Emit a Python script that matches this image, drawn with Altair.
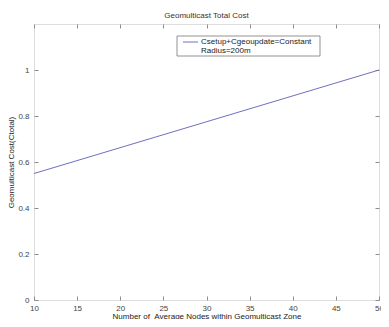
import altair as alt
import pandas as pd

# data
nodes = [10, 50]
cost = [0.55, 1.0]
x_ticks = [10, 15, 20, 25, 30, 35, 40, 45, 50]
y_ticks = [0, 0.2, 0.4, 0.6, 0.8, 1.0]
legend_lines = ["Csetup+Cgeoupdate=Constant", "Radius=200m"]
x_title = "Number of \u00a0Average Nodes within Geomulticast Zone"
y_title = "Geomulticast Cost(Ctotal)"
chart_title = "Geomulticast Total Cost"

df = pd.DataFrame({"n": nodes, "c": cost})

FONT = "Liberation Sans"
AX = "#444444"
FRAME = "#8c8c8c"
LINE = "#6f6fc0"

xs = alt.Scale(domain=[10, 50], nice=False, zero=False)
ys = alt.Scale(domain=[0, 1.2], nice=False, zero=False)

common_axis = dict(grid=False, domain=False, tickSize=4, offset=-4, tickColor=FRAME,
                   labelFont=FONT, labelFontSize=8, labelColor=AX,
                   titleFont=FONT, titleFontSize=8, titleColor="#222222", titleFontWeight="normal")

line = alt.Chart(df).mark_line(color=LINE, strokeWidth=1, clip=True).encode(
    x=alt.X("n:Q", scale=xs,
            axis=alt.Axis(values=x_ticks, labelPadding=4, title=x_title,
                          titlePadding=0, labelFlush=False, **common_axis)),
    y=alt.Y("c:Q", scale=ys,
            axis=alt.Axis(values=y_ticks, format="~g", labelPadding=5, title=y_title,
                          titlePadding=2, **common_axis)),
)

frame_axes = alt.Chart(df).mark_point(opacity=0).encode(
    x=alt.X("n:Q", scale=xs, axis=alt.Axis(values=x_ticks, orient="top", labels=False, title=None, **common_axis)),
    y=alt.Y("c:Q", scale=ys, axis=alt.Axis(values=y_ticks, orient="right", labels=False, title=None, **common_axis)),
)

leg_box = alt.Chart(df.head(1)).mark_rect(fill="white", stroke="#777777", strokeWidth=0.8).encode(
    x=alt.value(143), x2=alt.value(286), y=alt.value(12), y2=alt.value(32))
leg_rule = alt.Chart(df.head(1)).mark_rule(color=LINE, strokeWidth=1).encode(
    x=alt.value(149), x2=alt.value(164), y=alt.value(18))
leg_df = pd.DataFrame({"t": legend_lines, "yy": [18, 27]})
leg_text = alt.Chart(leg_df).mark_text(align="left", baseline="middle", font=FONT, fontSize=8, color="#222222").encode(
    x=alt.value(167), y=alt.Y("yy:Q", scale=None), text="t:N")

chart = alt.layer(line, frame_axes, leg_box, leg_rule, leg_text).resolve_axis(
    x="independent", y="independent"
).properties(
    width=345, height=276,
    title=alt.TitleParams(chart_title, font=FONT, fontSize=8, fontWeight="normal",
                          color="#333333", anchor="middle", offset=4),
    autosize=alt.AutoSizeParams(type="none"),
    padding={"left": 26, "top": 16, "right": 2, "bottom": 19},
).configure_view(stroke=FRAME, strokeWidth=1).configure(background="white")

chart.save("out.html", embed_options={"renderer": "svg", "actions": False})
